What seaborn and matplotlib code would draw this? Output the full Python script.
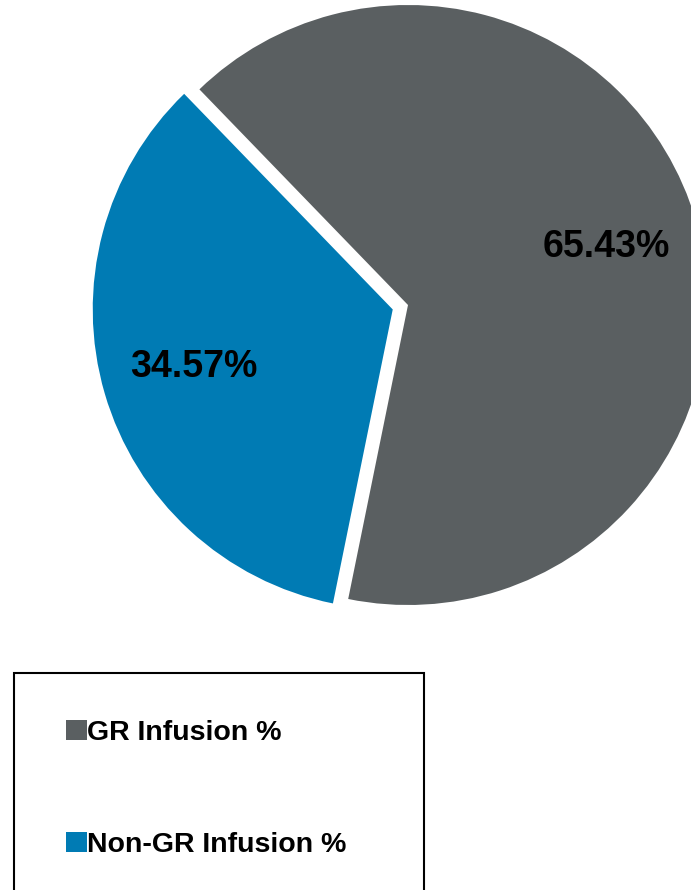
import matplotlib
matplotlib.use("Agg")
import matplotlib.pyplot as plt
import seaborn as sns
from matplotlib.patches import Patch, Rectangle

# data
labels = ["GR Infusion %", "Non-GR Infusion %"]
shares = [65.43, 34.57]
colors = ["#5a5f61", "#007bb4"]

sns.set_style("white")
plt.rcParams["font.family"] = ["Liberation Sans", "DejaVu Sans"]
plt.rcParams["text.color"] = "black"

W, H = 691, 890
fig = plt.figure(figsize=(W / 100, H / 100), dpi=100)

# pie axes: centre at (408, 305) px from top-left, radius 300 px
r = 300
cx, cy = 408, 305
ax = fig.add_axes([(cx - r) / W, (H - cy - r) / H, 2 * r / W, 2 * r / H])
wedges, texts, autotexts = ax.pie(
    shares,
    colors=colors,
    startangle=-101.5,
    counterclock=True,
    explode=[0, 0.053],
    autopct="%.2f%%",
    pctdistance=0.69,
    wedgeprops=dict(linewidth=0),
    textprops=dict(fontsize=27, fontweight="bold", color="black"),
)
ax.set_xlim(-1, 1)
ax.set_ylim(-1, 1)
ax.set_aspect("equal")
ax.axis("off")

# legend
handles = [Patch(facecolor=c, edgecolor="none") for c in colors]
leg = fig.legend(
    handles,
    labels,
    loc="upper left",
    bbox_to_anchor=(66 / W, 1 - 720 / H),
    frameon=False,
    prop=dict(weight="bold", size=20.5),
    labelcolor="black",
    handlelength=0.72,
    handleheight=0.72,
    handletextpad=0.02,
    labelspacing=3.0,
    borderpad=0,
    borderaxespad=0,
)

# legend frame (bottom runs off the figure)
fig.patches.append(
    Rectangle((14 / W, -0.05), (424 - 14) / W, (H - 673) / H + 0.05,
              transform=fig.transFigure, fill=False, edgecolor="black",
              linewidth=1.5)
)

fig.savefig("out.png", dpi=100)
